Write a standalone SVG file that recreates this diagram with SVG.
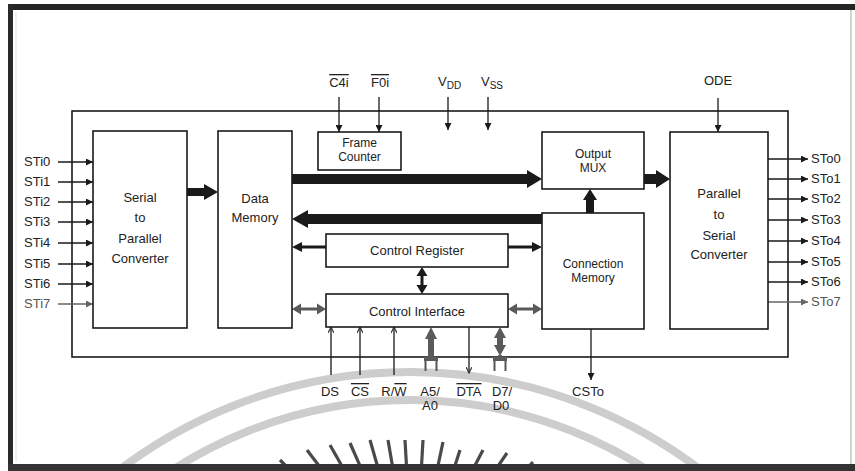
<svg xmlns="http://www.w3.org/2000/svg" width="855" height="471" viewBox="0 0 855 471">
<defs>
<style>
.bx{fill:#fff;stroke:#1a1a1a;stroke-width:1.6}
.t{font-family:"Liberation Sans",Arial,sans-serif;font-size:13px;fill:#222;text-anchor:middle}
.t2{font-family:"Liberation Sans",Arial,sans-serif;font-size:12px;fill:#222;text-anchor:middle}
.s{font-family:"Liberation Sans",Arial,sans-serif;font-size:13px;fill:#222;text-anchor:start}
.ln{stroke:#1a1a1a;stroke-width:1.3;fill:none}
.gl{stroke:#666;stroke-width:1.3;fill:none}
.thk{fill:#1a1a1a}
.gthk{fill:#5a5a5a}
.ol{text-decoration:overline}
.wm{fill:none;stroke:#cdcdcd;stroke-width:8}
.ray{stroke:#4a4a4a;stroke-width:3.2}
</style>
<marker id="a" viewBox="0 0 10 10" refX="10" refY="5" markerWidth="8" markerHeight="7" orient="auto" markerUnits="userSpaceOnUse"><path d="M0,0 L10,5 L0,10 z" fill="#1a1a1a"/></marker>
<marker id="ag" viewBox="0 0 10 10" refX="10" refY="5" markerWidth="8" markerHeight="7" orient="auto" markerUnits="userSpaceOnUse"><path d="M0,0 L10,5 L0,10 z" fill="#666"/></marker>
<marker id="as" viewBox="0 0 10 10" refX="10" refY="5" markerWidth="7" markerHeight="6" orient="auto" markerUnits="userSpaceOnUse"><path d="M0,0 L10,5 L0,10" fill="none" stroke="#333" stroke-width="2"/></marker>
</defs>
<rect x="0" y="0" width="855" height="471" fill="#fff"/>

<!-- watermark -->
<g id="watermark">
<circle class="wm" cx="410" cy="852" r="480"/>
<circle class="wm" cx="410" cy="838" r="438"/>
<line class="ray" x1="280" y1="460" x2="295" y2="475"/>
<line class="ray" x1="307" y1="450" x2="326" y2="475"/>
<line class="ray" x1="330" y1="445" x2="347" y2="475"/>
<line class="ray" x1="350" y1="443" x2="364" y2="475"/>
<line class="ray" x1="370" y1="440" x2="380" y2="475"/>
<line class="ray" x1="388" y1="440" x2="394" y2="475"/>
<line class="ray" x1="405" y1="440" x2="407" y2="475"/>
<line class="ray" x1="423" y1="440" x2="421" y2="475"/>
<line class="ray" x1="443" y1="442" x2="436" y2="475"/>
<line class="ray" x1="460" y1="450" x2="452" y2="475"/>
<line class="ray" x1="483" y1="450" x2="470" y2="475"/>
<line class="ray" x1="507" y1="453" x2="492" y2="475"/>
<line class="ray" x1="533" y1="462" x2="521" y2="475"/>
</g>

<!-- frame -->
<g id="frame">
<rect x="8" y="4" width="847" height="6" fill="#252525"/>
<rect x="8" y="4" width="5" height="467" fill="#2a2a2a"/>
<rect x="8" y="464" width="847" height="7" fill="#333"/>
<line x1="851" y1="10" x2="851" y2="464" stroke="#b5b5b5" stroke-width="1.2"/>
<line x1="16" y1="12" x2="16" y2="462" stroke="#e4e4e4" stroke-width="1"/>
</g>

<!-- chip boundary -->
<g id="chip"><rect x="72" y="111" width="716" height="246" fill="none" stroke="#1a1a1a" stroke-width="1.6"/></g>

<!-- connectors -->
<g id="connectors">
<line class="ln" x1="339" y1="97" x2="339" y2="132" marker-end="url(#a)"/>
<line class="ln" x1="379" y1="97" x2="379" y2="132" marker-end="url(#a)"/>
<line class="ln" x1="448" y1="97" x2="448" y2="130" marker-end="url(#a)"/>
<line class="ln" x1="488" y1="97" x2="488" y2="130" marker-end="url(#a)"/>
<line class="ln" x1="718" y1="98" x2="718" y2="132" marker-end="url(#a)"/>
<line class="ln" x1="58" y1="162" x2="93" y2="162" marker-end="url(#a)"/>
<line class="ln" x1="58" y1="182" x2="93" y2="182" marker-end="url(#a)"/>
<line class="ln" x1="58" y1="202" x2="93" y2="202" marker-end="url(#a)"/>
<line class="ln" x1="58" y1="222" x2="93" y2="222" marker-end="url(#a)"/>
<line class="ln" x1="58" y1="243" x2="93" y2="243" marker-end="url(#a)"/>
<line class="ln" x1="58" y1="264" x2="93" y2="264" marker-end="url(#a)"/>
<line class="ln" x1="58" y1="284" x2="93" y2="284" marker-end="url(#a)"/>
<line class="gl" x1="58" y1="304" x2="93" y2="304" marker-end="url(#ag)"/>
<line class="ln" x1="768" y1="159" x2="808" y2="159" marker-end="url(#a)"/>
<line class="ln" x1="768" y1="179" x2="808" y2="179" marker-end="url(#a)"/>
<line class="ln" x1="768" y1="199" x2="808" y2="199" marker-end="url(#a)"/>
<line class="ln" x1="768" y1="220" x2="808" y2="220" marker-end="url(#a)"/>
<line class="ln" x1="768" y1="241" x2="808" y2="241" marker-end="url(#a)"/>
<line class="ln" x1="768" y1="262" x2="808" y2="262" marker-end="url(#a)"/>
<line class="ln" x1="768" y1="282" x2="808" y2="282" marker-end="url(#a)"/>
<line class="gl" x1="768" y1="302" x2="808" y2="302" marker-end="url(#ag)"/>
<polygon class="thk" points="187,188 204,188 204,184 218,192 204,200 204,196 187,196"/>
<polygon class="thk" points="292,174 527,174 527,170 542,179 527,188 527,184 292,184"/>
<polygon class="thk" points="542,214 308,214 308,210 292,219 308,228 308,224 542,224"/>
<polygon class="thk" points="644,174 656,174 656,170 670,179 656,188 656,184 644,184"/>
<polygon class="thk" points="586,213 586,200 583,200 590,189 597,200 594,200 594,213"/>
<polygon class="thk" points="326,245.5 302,245.5 302,242 292,247 302,252 302,248.5 326,248.5"/>
<polygon class="thk" points="508,245.5 532,245.5 532,242 542,247 532,252 532,248.5 508,248.5"/>
<polygon class="thk" points="422,267 427.5,276 423.5,276 423.5,285 427.5,285 422,294 416.5,285 420.5,285 420.5,276 416.5,276"/>
<polygon class="gthk" points="292,309 301,303.5 301,307.5 317,307.5 317,303.5 326,309 317,314.5 317,310.5 301,310.5 301,314.5"/>
<polygon class="gthk" points="508,309 517,303.5 517,307.5 533,307.5 533,303.5 542,309 533,314.5 533,310.5 517,310.5 517,314.5"/>
<line class="ln" x1="331" y1="375" x2="331" y2="327" marker-end="url(#as)"/>
<line class="ln" x1="360" y1="375" x2="360" y2="327" marker-end="url(#as)"/>
<line class="ln" x1="394" y1="375" x2="394" y2="327" marker-end="url(#as)"/>
<line class="ln" x1="469" y1="327" x2="469" y2="373" marker-end="url(#as)"/>
<line class="ln" x1="591" y1="329" x2="591" y2="380" marker-end="url(#a)"/>
<polygon class="gthk" points="431,327 437,339 434,339 434,358 428,358 428,339 425,339"/>
<rect class="gthk" x="424" y="357" width="14" height="4"/>
<line x1="425.5" y1="361" x2="425.5" y2="371" stroke="#555" stroke-width="2"/>
<line x1="436.5" y1="361" x2="436.5" y2="371" stroke="#555" stroke-width="2"/>
<polygon class="gthk" points="500,327 506,338 503,338 503,345 506,345 500,356 494,345 497,345 497,338 494,338"/>
<rect class="gthk" x="498" y="355" width="4" height="3"/>
<rect class="gthk" x="493" y="357" width="14" height="4"/>
<line x1="494.5" y1="361" x2="494.5" y2="371" stroke="#555" stroke-width="2"/>
<line x1="505.5" y1="361" x2="505.5" y2="371" stroke="#555" stroke-width="2"/>
</g>

<!-- nodes -->
<g id="sp">
<rect class="bx" x="93" y="131" width="94" height="197"/>
<text class="t" x="140" y="202">Serial</text>
<text class="t" x="140" y="222">to</text>
<text class="t" x="140" y="243">Parallel</text>
<text class="t" x="140" y="263">Converter</text>
</g>
<g id="dm">
<rect class="bx" x="218" y="131" width="74" height="197"/>
<text class="t" x="255" y="203">Data</text>
<text class="t" x="255" y="222">Memory</text>
</g>
<g id="fc">
<rect class="bx" x="318" y="132" width="83" height="38"/>
<text class="t2" x="359.5" y="147">Frame</text>
<text class="t2" x="359.5" y="161">Counter</text>
</g>
<g id="mux">
<rect class="bx" x="542" y="132" width="102" height="57"/>
<text class="t2" x="593" y="158">Output</text>
<text class="t2" x="593" y="172">MUX</text>
</g>
<g id="cm">
<rect class="bx" x="542" y="213" width="102" height="116"/>
<text class="t2" x="593" y="268">Connection</text>
<text class="t2" x="593" y="282">Memory</text>
</g>
<g id="ps">
<rect class="bx" x="670" y="132" width="98" height="197"/>
<text class="t" x="719" y="198">Parallel</text>
<text class="t" x="719" y="219">to</text>
<text class="t" x="719" y="240">Serial</text>
<text class="t" x="719" y="259">Converter</text>
</g>
<g id="cr">
<rect class="bx" x="326" y="234" width="182" height="33"/>
<text class="t" x="417" y="255">Control Register</text>
</g>
<g id="ci">
<rect class="bx" x="326" y="294" width="182" height="33"/>
<text class="t" x="417" y="316">Control Interface</text>
</g>

<!-- pin labels -->
<g id="pins-top">
<text class="t" x="339" y="87"><tspan class="ol">C4i</tspan></text>
<text class="t" x="380" y="87"><tspan class="ol">F0i</tspan></text>
<text class="s" x="438" y="86">V<tspan dy="3" font-size="10">DD</tspan></text>
<text class="s" x="481" y="86">V<tspan dy="3" font-size="10">SS</tspan></text>
<text class="t" x="718" y="85">ODE</text>
</g>
<g id="pins-in">
<text class="s" x="24" y="166">STi0</text>
<text class="s" x="24" y="186">STi1</text>
<text class="s" x="24" y="206">STi2</text>
<text class="s" x="24" y="226">STi3</text>
<text class="s" x="24" y="247">STi4</text>
<text class="s" x="24" y="268">STi5</text>
<text class="s" x="24" y="288">STi6</text>
<text class="s" x="24" y="308" style="fill:#555">STi7</text>
</g>
<g id="pins-out">
<text class="s" x="811" y="163">STo0</text>
<text class="s" x="811" y="183">STo1</text>
<text class="s" x="811" y="203">STo2</text>
<text class="s" x="811" y="224">STo3</text>
<text class="s" x="811" y="245">STo4</text>
<text class="s" x="811" y="266">STo5</text>
<text class="s" x="811" y="286">STo6</text>
<text class="s" x="811" y="306" style="fill:#555">STo7</text>
</g>
<g id="pins-bottom">
<text class="t" x="330" y="396">DS</text>
<text class="t" x="360" y="396"><tspan class="ol">CS</tspan></text>
<text class="t" x="394" y="396">R/<tspan class="ol">W</tspan></text>
<text class="t" x="430" y="396">A5/</text>
<text class="t" x="430" y="410">A0</text>
<text class="t" x="469" y="396"><tspan class="ol">DTA</tspan></text>
<text class="t" x="502" y="396">D7/</text>
<text class="t" x="501" y="410">D0</text>
<text class="t" x="588" y="396">CSTo</text>
</g>
</svg>
